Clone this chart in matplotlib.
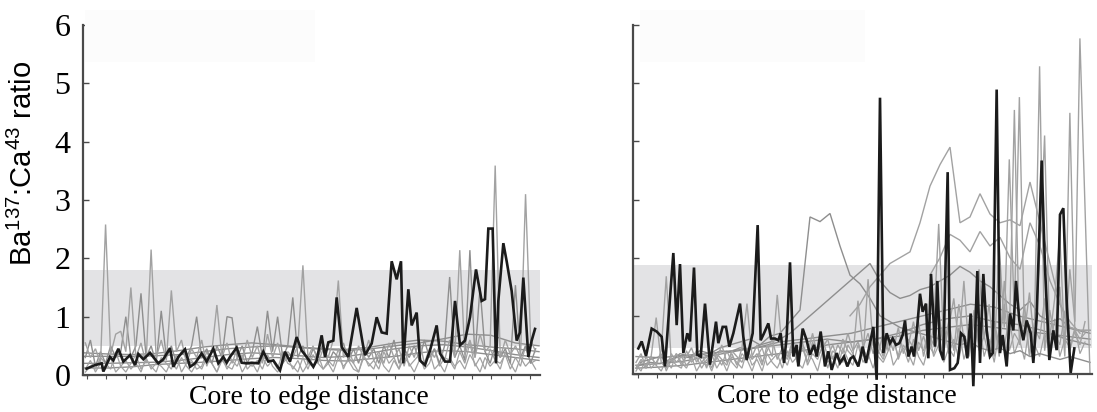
import numpy as np
import matplotlib
matplotlib.use("Agg")
import matplotlib.pyplot as plt
from matplotlib.patches import Rectangle

plt.rcParams['mathtext.fontset'] = 'custom'
plt.rcParams['mathtext.rm'] = 'Liberation Sans'
plt.rcParams['mathtext.default'] = 'regular'

# ---------------- data (distance in arbitrary core-to-edge units) ----------------
# LEFT panel
left_black_x = [50,75,95,100,120,130,145,160,180,195,205,220,240,255,265,280,300,310,325,345,
                360,375,395,410,430,445,460,470,480,500,515,530,545,565,580,595,610,630,645,660,
                680,695,710,730,740,755,765,775,790,800,815,835,860,880,885,905,920,935,950,965,
                980,993,1000,1015,1025,1040,1050,1065,1080,1100,1110,1125,1140,1155,1170,1185,1200,1218,1235,1245,
                1255,1268,1278,1285,1300,1310,1325,1340,1350,1360,1375,1385,1395]
left_black_y = [0.11,0.17,0.2,0.06,0.31,0.25,0.45,0.23,0.34,0.17,0.36,0.27,0.38,0.27,0.2,0.27,0.46,0.14,0.31,0.44,
                0.14,0.2,0.37,0.23,0.45,0.2,0.31,0.21,0.31,0.47,0.21,0.2,0.21,0.2,0.4,0.23,0.25,0.08,0.4,0.23,
                0.65,0.42,0.31,0.14,0.25,0.68,0.31,0.56,0.59,1.33,0.48,0.31,1.15,0.48,0.34,0.54,0.99,0.73,0.71,1.95,
                1.64,1.95,0.2,1.47,0.85,1.07,0.25,0.17,0.42,0.85,0.37,0.23,0.23,1.27,0.51,0.59,0.99,1.81,1.27,1.3,
                2.51,2.51,0.2,1.27,2.26,1.95,1.44,0.59,0.73,1.67,0.31,0.59,0.79]

left_gray_a = [0.55,0.3,0.45,0.2,2.58,0.35,0.7,0.75,0.4,1.5,
               0.3,0.55,0.2,2.15,0.3,0.6,0.25,1.45,0.4,0.6,
               0.2,0.45,0.3,0.6,0.15,0.4,1.2,0.3,0.55,0.2,
               0.45,0.25,0.6,0.3,0.5,0.2,0.7,0.3,0.55,0.2,
               0.4,0.3,0.5,1.88,0.3,0.5,0.2,0.45,0.3,0.6,
               1.62,0.3,0.45,0.2,0.5,0.3,0.6,0.25,0.4,0.2,
               0.55,0.3,0.45,0.15,0.5,0.3,0.6,0.2,0.45,0.3,
               0.5,0.25,0.6,0.3,2.14,0.35,0.6,0.3,0.7,0.4,
               0.5,3.59,0.3,0.6,0.35,0.5,0.3,3.1,0.6,0.4]
left_gray_b = [0.3,0.6,0.15,0.4,0.2,0.5,0.3,0.4,1.0,0.3,
               0.5,1.4,0.3,0.5,0.2,1.1,0.3,0.5,0.2,0.4,
               0.3,0.5,1.0,0.3,0.45,0.2,0.5,0.3,1.0,0.98,
               0.3,0.5,0.2,0.4,0.83,0.3,1.1,0.4,1.0,0.3,
               0.5,1.33,0.3,0.5,0.2,0.45,0.3,0.55,0.2,0.4,
               0.3,0.55,0.25,0.45,0.2,0.5,0.3,0.45,0.2,0.5,
               0.3,0.6,0.2,0.45,0.3,0.5,0.25,0.6,0.3,0.45,
               0.2,0.5,1.68,0.3,0.5,0.25,2.14,0.3,1.5,0.4,
               0.2,0.5,0.3,0.45,0.2,1.54,0.3,0.5,0.2,0.45]
left_gray_c = [0.1,0.25,0.05,0.2,0.1,0.3,0.05,0.15,0.25,0.1,0.2,0.05,0.3,0.1,0.2,0.15,0.05,0.25,0.1,0.3,
               0.15,0.05,0.2,0.1,0.3,0.2,0.05,0.25,0.15,0.1,0.3,0.05,0.2,0.15,0.25,0.1,0.35,0.15,0.05,0.2,
               0.3,0.1,0.25,0.05,0.2,0.15,0.35,0.1,0.2,0.05,0.3,0.15,0.25,0.1,0.05,0.3,0.2,0.1,0.35,0.15,
               0.05,0.25,0.1,0.3,0.2,0.05,0.25,0.15,0.4,0.1,0.2,0.05,0.3,0.15,0.25,0.1,0.35,0.2,0.05,0.3,
               0.15,0.25,0.1,0.4,0.2,0.05,0.3,0.15,0.25,0.1]
left_gray_d = [0.05,0.15,0.1,0.3,0.2,0.1,0.4,0.15,0.05,0.2,0.35,0.1,0.25,0.15,0.05,0.3,0.2,0.1,0.35,0.05,
               0.2,0.25,0.1,0.15,0.4,0.2,0.05,0.3,0.1,0.25,0.15,0.35,0.1,0.2,0.05,0.3,0.15,0.25,0.1,0.4,
               0.2,0.15,0.05,0.3,0.1,0.35,0.2,0.1,0.25,0.15,0.45,0.1,0.3,0.2,0.05,0.35,0.15,0.25,0.1,0.4,
               0.2,0.3,0.1,0.5,0.15,0.25,0.35,0.1,0.2,0.45,0.15,0.3,0.25,0.1,0.4,0.2,0.55,0.15,0.3,0.1,
               0.45,0.25,0.2,0.35,0.1,0.3,0.15,0.5,0.2,0.25]
left_smooth_1 = [0.32,0.32,0.32,0.33,0.35,0.40,0.45,0.48,0.50,0.47,0.44,0.42,0.45,0.50,0.55,0.62,0.70,0.68,0.55,0.50]
left_smooth_2 = [0.20,0.20,0.21,0.22,0.25,0.30,0.35,0.38,0.36,0.33,0.30,0.32,0.38,0.45,0.50,0.52,0.48,0.42,0.35,0.30]
left_smooth_3 = [0.38,0.36,0.35,0.37,0.42,0.48,0.52,0.55,0.52,0.48,0.45,0.44,0.48,0.55,0.60,0.58,0.52,0.48,0.45,0.40]
left_smooth_4 = [0.12,0.12,0.14,0.18,0.20,0.22,0.25,0.28,0.30,0.28,0.25,0.24,0.28,0.32,0.38,0.42,0.40,0.35,0.30,0.25]

# RIGHT panel
right_black_x = [85,95,108,125,140,155,165,175,190,200,210,220,232,240,252,262,272,285,300,318,
                 325,338,348,358,370,390,400,410,428,443,452,462,475,483,495,505,512,522,530,540,
                 550,560,565,578,590,600,612,620,632,645,655,665,680,690,702,712,722,730,745,758,
                 768,775,790,800,810,820,830,840,848,858,868,878,885,895,905,912,920,930,938,948,
                 955,963,975,982,990,1000,1013,1020,1033,1043,1053,1063,1072,1082,1090,1102,1110,1120,1130,1140,
                 1148,1160,1170,1178,1190,1200,1210,1218,1228,1240,1250,1262,1270,1280,1295,1305,1318,1330,1340,1350,
                 1360,1370,1382,1393]
right_black_y = [0.44,0.56,0.31,0.78,0.73,0.64,0.13,0.92,2.08,0.84,1.89,0.36,0.7,0.56,1.83,0.33,0.3,1.21,0.16,0.9,
                 0.53,0.81,0.81,0.47,0.7,1.21,0.64,0.24,0.7,2.56,0.58,0.7,0.87,0.61,0.61,0.58,0.7,0.19,0.64,1.92,
                 0.3,0.5,0.13,0.78,0.58,0.33,0.5,0.3,0.73,0.13,0.39,0.07,0.36,0.19,0.3,0.13,0.27,0.3,0.13,0.47,
                 0.19,0.39,0.81,-0.1,4.75,0.36,0.7,0.53,0.61,0.5,0.53,0.67,0.92,0.3,0.47,0.3,0.7,1.38,1.07,1.21,
                 0.27,1.72,0.47,1.6,0.41,0.24,3.47,0.07,0.1,0.19,0.7,0.64,0.27,1.04,-0.21,1.77,0.19,1.72,0.75,0.3,
                 0.36,4.89,0.36,0.67,0.13,1.04,0.75,1.6,0.92,0.58,0.92,0.7,0.19,0.98,3.67,1.83,0.24,0.75,0.41,2.74,
                 2.85,1.26,0.02,0.44]

right_gray_1 = [0.2,0.35,0.1,0.3,0.15,0.4,1.68,0.2,0.35,0.15,
                0.3,0.45,0.2,0.35,0.1,0.4,0.25,0.5,0.2,0.35,
                0.15,0.45,1.21,0.3,0.5,0.2,0.4,0.6,0.25,0.45,
                0.3,0.55,0.2,0.5,0.35,0.7,0.3,0.45,0.6,0.25,
                0.5,0.35,0.7,0.4,0.55,0.3,1.63,0.5,0.35,0.7,
                0.4,0.6,0.3,0.75,0.5,0.9,0.4,0.65,0.35,0.8,
                2.58,0.5,0.9,0.4,1.2,0.6,0.3,1.0,0.5,1.4,
                0.4,0.9,0.3,1.6,0.6,4.54,0.5,1.2,0.3,0.9,
                5.29,0.4,1.1,0.6,1.5,0.3,4.49,0.7,0.5,0.9]
right_gray_2 = [0.1,0.25,0.15,0.3,0.97,0.2,0.1,0.35,0.2,0.3,
                0.15,0.25,0.4,0.2,0.3,0.1,0.35,0.25,0.15,0.4,
                0.3,0.2,0.45,0.25,0.35,0.15,0.5,0.3,1.36,0.4,
                0.25,0.5,0.3,0.45,0.2,0.55,0.35,0.6,0.3,0.5,
                0.25,0.6,0.4,0.3,1.26,0.45,0.7,0.35,0.55,0.3,
                0.65,0.4,0.8,0.35,0.6,0.45,0.9,0.3,0.7,0.5,
                1.1,0.4,0.8,1.3,0.5,1.6,0.4,0.9,1.8,0.6,
                1.2,0.3,2.2,0.8,3.69,1.0,4.76,0.7,1.4,0.5,
                2.0,4.1,0.6,1.3,2.4,0.5,1.8,0.9,5.77,2.9,
                0.0]
right_hump = [0.2,0.25,0.3,0.2,0.35,0.3,0.4,0.35,0.45,0.5,
              0.55,0.6,0.5,0.65,0.7,0.9,1.1,2.7,2.62,2.76,
              2.2,1.7,1.55,1.3,1.0,0.9,0.8,0.75,0.7,0.65,
              0.6,0.55,0.5,0.55,0.45,0.4,0.45,0.35,0.4,0.3,
              0.35,0.3,0.25,0.3,0.25,0.2]
right_rising = [0.15,0.2,0.18,0.25,0.3,0.28,0.35,0.3,0.4,0.38,
                0.45,0.42,0.5,0.55,0.6,0.7,0.85,1.0,1.15,1.3,
                1.45,1.6,1.75,1.9,1.6,1.4,1.3,1.35,1.45,1.5,
                1.6,1.7,1.85,1.75,1.6,1.5,1.35,1.2,1.1,1.25,
                1.0,0.9,0.95,0.8,0.75,0.75]
right_upper = [1.0,1.2,1.5,1.7,1.9,2.0,2.1,2.6,3.23,3.6,
               3.9,2.6,2.7,3.1,2.75,2.6,2.65,2.55,3.3,2.6,
               1.9,1.2,0.8,0.75,0.75]
right_upper_2 = [1.7,2.0,2.4,2.3,2.1,2.45,2.2,2.35,2.0,1.8,
                 2.6,2.2,1.6,1.2,0.9,0.7]
right_smooth_1 = [0.15,0.18,0.22,0.3,0.38,0.45,0.55,0.6,0.65,0.7,0.8,0.9,1.0,1.1,1.2,1.15,1.0,0.9,0.8,0.7]
right_smooth_2 = [0.1,0.12,0.15,0.2,0.25,0.3,0.35,0.4,0.5,0.55,0.6,0.7,0.85,0.95,1.0,0.9,0.85,0.75,0.6,0.5]
right_smooth_3 = [0.3,0.28,0.32,0.35,0.4,0.45,0.5,0.55,0.6,0.55,0.6,0.65,0.75,0.8,0.85,0.8,0.75,0.7,0.65,0.6]
right_noise_1 = [0.05,0.2,0.1,0.3,0.15,0.05,0.25,0.1,0.35,0.2,0.1,0.3,0.05,0.2,0.15,0.35,0.1,0.25,0.05,0.3,
                 0.2,0.1,0.4,0.15,0.25,0.05,0.35,0.2,0.1,0.3,0.15,0.45,0.2,0.1,0.35,0.25,0.05,0.4,0.2,0.3,
                 0.1,0.45,0.25,0.15,0.5,0.2,0.35,0.1,0.4,0.25,0.55,0.15,0.3,0.45,0.2,0.6,0.3,0.15,0.5,0.35,
                 0.7,0.2,0.45,0.3,0.8,0.25,0.55,0.4,0.9,0.3,0.6,0.2,0.75,0.45,1.0,0.35,0.6,0.25,0.85,0.5,
                 0.3,0.7,0.4,0.95,0.3,0.6,0.45,0.8,0.35,0.55]
right_noise_2 = [0.15,0.05,0.3,0.1,0.2,0.35,0.05,0.25,0.15,0.1,0.4,0.2,0.3,0.1,0.25,0.05,0.3,0.15,0.4,0.2,
                 0.1,0.35,0.25,0.05,0.3,0.45,0.15,0.25,0.35,0.1,0.4,0.2,0.3,0.55,0.15,0.35,0.25,0.5,0.1,0.4,
                 0.3,0.2,0.5,0.35,0.15,0.45,0.25,0.6,0.3,0.2,0.4,0.65,0.25,0.5,0.35,0.15,0.55,0.4,0.75,0.3,
                 0.5,0.85,0.35,0.6,0.25,0.7,0.45,1.1,0.4,0.65,0.3,0.9,0.5,1.2,0.4,0.7,0.55,1.0,0.35,0.8,
                 0.6,1.3,0.45,0.7,0.5,1.05,0.4,0.75,0.6,0.7]

# typical range bands (Ba:Ca)
left_band = (0.5, 1.8)
right_band = (0.45, 1.87)
y_ticks = [0, 1, 2, 3, 4, 5, 6]

# ---------------- figure ----------------
W, H = 1097, 412
fig = plt.figure(figsize=(W / 100, H / 100), dpi=100)

GRAY_L = '#a2a2a2'
GRAY_M = '#8e8e8e'
BLACK = '#1b1b1b'
BAND = '#e3e3e5'
SPINE = '#4a4a4a'

serif = 'Liberation Serif'


def setup(ax, xlim, ntick, tick0, tick1, show_labels):
    ax.set_xlim(*xlim)
    ax.set_ylim(0, 6)
    for s in ('top', 'right'):
        ax.spines[s].set_visible(False)
    for s in ('left', 'bottom'):
        ax.spines[s].set_color(SPINE)
        ax.spines[s].set_linewidth(1.6)
    ax.set_yticks(y_ticks)
    ax.tick_params(axis='y', direction='in', length=4, width=1, color=SPINE, pad=9,
                   labelsize=23, labelleft=show_labels)
    ax.set_xticks(np.linspace(tick0, tick1, ntick))
    ax.tick_params(axis='x', direction='out', length=3, width=0.8, color=SPINE, labelbottom=False)
    for lab in ax.get_yticklabels():
        lab.set_fontfamily(serif)
    ax.patch.set_alpha(0)


def line(ax, x0, x1, vals, color, lw, z=2, clip=True):
    xs = np.linspace(x0, x1, len(vals))
    ax.plot(xs, vals, color=color, lw=lw, zorder=z, solid_joinstyle='miter', clip_on=clip)


# faint scan-like rectangles at top-left
fig.patches.append(Rectangle((85 / W, 1 - 62 / H), 230 / W, 52 / H, transform=fig.transFigure,
                             facecolor='#fcfcfc', edgecolor='none', zorder=0))
fig.patches.append(Rectangle((640 / W, 1 - 62 / H), 225 / W, 52 / H, transform=fig.transFigure,
                             facecolor='#fcfcfc', edgecolor='none', zorder=0))

# left axes
axL = fig.add_axes([83 / W, 1 - 375 / H, 457 / W, 350 / H])
setup(axL, (39, 1410), 24, 51, 1380, True)
axL.axhspan(left_band[0], left_band[1], color=BAND, zorder=0, lw=0)
line(axL, 42, 1407, left_smooth_1, GRAY_M, 1.0)
line(axL, 42, 1407, left_smooth_2, GRAY_M, 1.0)
line(axL, 42, 1407, left_smooth_3, GRAY_M, 1.0)
line(axL, 42, 1407, left_smooth_4, GRAY_M, 1.0)
line(axL, 46, 1397, left_gray_c, GRAY_L, 0.9)
line(axL, 46, 1397, left_gray_d, GRAY_L, 0.9)
line(axL, 46, 1397, left_gray_b, GRAY_M, 1.0)
line(axL, 46, 1397, left_gray_a, GRAY_L, 1.0)
axL.plot(left_black_x, left_black_y, color=BLACK, lw=1.9, zorder=5, solid_joinstyle='miter')
axL.set_ylabel('Ba$^{137}$:Ca$^{43}$ ratio', fontsize=21, fontfamily='Liberation Sans')
axL.yaxis.set_label_coords(-0.098, 0.606)
axL.set_xlabel('Core to edge distance', fontsize=20, fontfamily=serif)
axL.xaxis.set_label_coords(0.495, -0.03, transform=axL.transAxes)
axL.xaxis.label.set_va('top')

# right axes
axR = fig.add_axes([633 / W, 1 - 374 / H, 459 / W, 349 / H])
setup(axR, (69, 1446), 24, 84, 1401, False)
axR.axhspan(right_band[0], right_band[1], color=BAND, zorder=0, lw=0)
line(axR, 78, 1440, right_smooth_1, GRAY_M, 1.0)
line(axR, 78, 1440, right_smooth_2, GRAY_M, 1.0)
line(axR, 78, 1440, right_smooth_3, GRAY_M, 1.0, clip=False)
line(axR, 78, 1425, right_noise_1, GRAY_L, 0.9)
line(axR, 78, 1425, right_noise_2, GRAY_L, 0.9)
line(axR, 90, 1440, right_hump, GRAY_M, 1.0)
line(axR, 90, 1440, right_rising, GRAY_M, 1.0)
line(axR, 720, 1440, right_upper, GRAY_L, 1.0)
line(axR, 960, 1410, right_upper_2, GRAY_L, 1.0)
line(axR, 78, 1425, right_gray_1, GRAY_L, 1.0)
line(axR, 78, 1440, right_gray_2, GRAY_L, 1.0)
axR.plot(right_black_x, right_black_y, color=BLACK, lw=1.9, zorder=5, solid_joinstyle='miter',
         clip_on=False)
axR.set_xlabel('Core to edge distance', fontsize=20, fontfamily=serif)
axR.xaxis.set_label_coords(0.445, -0.03, transform=axR.transAxes)
axR.xaxis.label.set_va('top')

fig.savefig('out.png', dpi=100)
